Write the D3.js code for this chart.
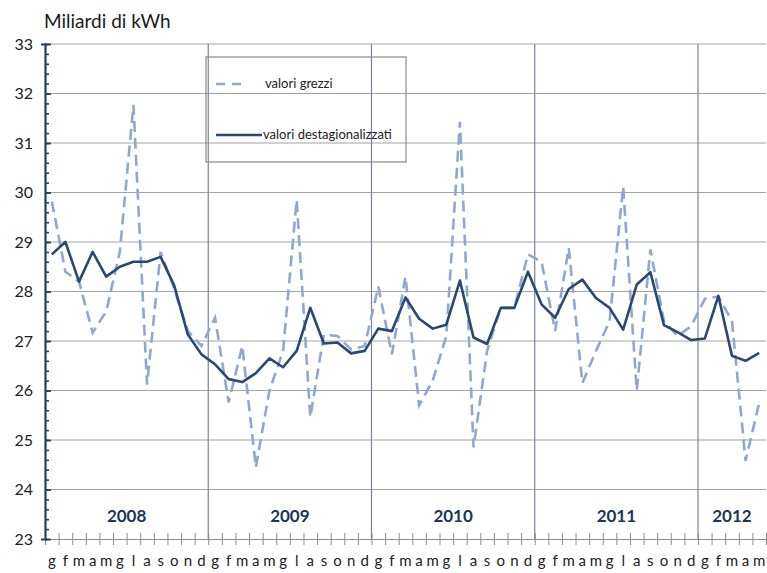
<!DOCTYPE html>
<html>
<head>
<meta charset="utf-8">
<script src="https://cdn.jsdelivr.net/npm/d3@7"></script>
<style>
  body { margin: 0; background: #fff; }
  svg { font-family: Lato, "Open Sans", sans-serif; }
</style>
</head>
<body>
<svg id="chart" width="767" height="573"></svg>
<script>
// data
var years = ['2008', '2009', '2010', '2011', '2012'];
var monthLetters = ['g', 'f', 'm', 'a', 'm', 'g', 'l', 'a', 's', 'o', 'n', 'd'];
var yTicks = [23, 24, 25, 26, 27, 28, 29, 30, 31, 32, 33];

var grezzi = [
  29.82, 28.4, 28.2, 27.17, 27.6, 28.8, 31.77, 26.12, 28.8, 28.05, 27.2, 26.9,
  27.47, 25.76, 26.9, 24.45, 26.0, 26.8, 29.85, 25.46, 27.13, 27.1, 26.83, 26.9,
  28.1, 26.73, 28.3, 25.7, 26.2, 27.1, 31.43, 24.85, 26.8, 27.67, 27.67, 28.75,
  28.6, 27.2, 28.88, 26.15, 26.8, 27.4, 30.12, 26.0, 28.85, 27.4, 27.1, 27.3,
  27.85, 27.9, 27.4, 24.58, 25.75
];
var destag = [
  28.75, 29.0, 28.2, 28.8, 28.3, 28.5, 28.6, 28.6, 28.7, 28.12, 27.13, 26.73,
  26.53, 26.23, 26.17, 26.35, 26.65, 26.47, 26.8, 27.67, 26.95, 26.97, 26.75, 26.8,
  27.25, 27.2, 27.88, 27.45, 27.25, 27.33, 28.22, 27.07, 26.94, 27.67, 27.67, 28.4,
  27.74, 27.47, 28.05, 28.24, 27.87, 27.67, 27.23, 28.14, 28.39, 27.32, 27.18, 27.02,
  27.05, 27.91, 26.7, 26.6, 26.76
];

// month labels, one per value
var months = grezzi.map(function(d, i) { return monthLetters[i % 12]; });

var plotLeft = 45, plotRight = 766, plotTop = 44, plotBottom = 539;
var svg = d3.select('#chart');

// scales
var x = d3.scaleBand().domain(d3.range(grezzi.length)).range([plotLeft, plotRight]);
var xb = d3.scaleLinear().domain([0, grezzi.length]).range([plotLeft, plotRight]);
var y = d3.scaleLinear().domain([23, 33]).range([plotBottom, plotTop]);
function cx(i) { return x(i) + x.bandwidth() / 2; }

// horizontal grid
svg.append('g')
  .selectAll('line')
  .data(yTicks.slice(1))
  .enter()
  .append('line')
    .attr('x1', plotLeft).attr('x2', plotRight)
    .attr('y1', function(d) { return y(d); })
    .attr('y2', function(d) { return y(d); })
    .style('stroke', '#a3a3a3')
    .style('stroke-width', 1.2);

// vertical year separators
svg.append('g')
  .selectAll('line')
  .data([12, 24, 36, 48])
  .enter()
  .append('line')
    .attr('x1', function(d) { return xb(d); })
    .attr('x2', function(d) { return xb(d); })
    .attr('y1', plotTop).attr('y2', plotBottom)
    .style('stroke', '#7683a0')
    .style('stroke-width', 1.2);

// x axis: ticks at month boundaries
var xAxis = svg.append('g')
  .attr('transform', 'translate(0,' + plotBottom + ')')
  .call(d3.axisBottom(xb).tickValues(d3.range(grezzi.length + 1)).tickSize(6).tickFormat(''));
xAxis.select('.domain').style('stroke', '#8c8c8c').style('stroke-width', 1.2);
xAxis.selectAll('.tick line').attr('y1', -6).style('stroke', '#8c8c8c');

// month letters
svg.append('g')
  .attr('transform', 'translate(0,' + plotBottom + ')')
  .call(d3.axisBottom(x).tickSize(0).tickFormat(function(i) { return months[i]; }))
  .call(function(g) {
    g.select('.domain').remove();
    g.selectAll('text')
      .attr('y', 16)
      .style('font-family', 'Lato, sans-serif')
      .style('font-size', '15px')
      .style('fill', '#222');
  });

// y axis with minor ticks
var minor = d3.range(23, 33.001, 0.2).map(function(d) { return +d.toFixed(1); });
var yMinor = svg.append('g')
  .attr('transform', 'translate(' + plotLeft + ',0)')
  .call(d3.axisLeft(y).tickValues(minor).tickSize(4).tickFormat(''));
yMinor.select('.domain').style('stroke', '#243f6b').style('stroke-width', 2.2);
yMinor.selectAll('.tick line').attr('x2', 4).style('stroke', '#243f6b').style('stroke-width', 1.6);

var yAxis = svg.append('g')
  .attr('transform', 'translate(' + plotLeft + ',0)')
  .call(d3.axisLeft(y).tickValues(yTicks).tickSize(6).tickFormat(d3.format('d')));
yAxis.select('.domain').remove();
yAxis.selectAll('.tick line').attr('x2', 6).style('stroke', '#243f6b').style('stroke-width', 1.8);
yAxis.selectAll('text')
  .attr('x', -12)
  .style('font-family', 'Lato, sans-serif')
  .style('font-size', '16px')
  .style('fill', '#222');

// year labels
svg.append('g')
  .selectAll('text')
  .data(years)
  .enter()
  .append('text')
    .attr('x', function(d, i) { return (xb(i * 12) + xb(Math.min((i + 1) * 12, grezzi.length))) / 2; })
    .attr('y', 522)
    .attr('text-anchor', 'middle')
    .style('font-size', '17px')
    .style('font-weight', 'bold')
    .style('fill', '#1d3558')
    .text(function(d) { return d; });

// lines
var line = function(vals) {
  return d3.line()
    .x(function(d, i) { return cx(i); })
    .y(function(d) { return y(d); })(vals);
};

svg.append('path')
  .attr('d', line(grezzi))
  .style('fill', 'none')
  .style('stroke', '#8ea8d0')
  .style('stroke-width', 2.6)
  .style('stroke-dasharray', '11,6');

svg.append('path')
  .attr('d', line(destag))
  .style('fill', 'none')
  .style('stroke', '#2a4872')
  .style('stroke-width', 2.6)
  .style('stroke-linejoin', 'round');

// legend
var legend = svg.append('g');
legend.append('rect')
  .attr('x', 206).attr('y', 57)
  .attr('width', 200).attr('height', 105)
  .style('fill', 'none')
  .style('stroke', '#8a8a8a')
  .style('stroke-width', 1.2);
legend.append('line')
  .attr('x1', 216).attr('x2', 248).attr('y1', 84).attr('y2', 84)
  .style('stroke', '#8ea8d0').style('stroke-width', 2.6).style('stroke-dasharray', '9,7');
legend.append('text')
  .attr('x', 265).attr('y', 88)
  .style('font-size', '13px').style('fill', '#222')
  .text('valori grezzi');
legend.append('line')
  .attr('x1', 216).attr('x2', 262).attr('y1', 135).attr('y2', 135)
  .style('stroke', '#2a4872').style('stroke-width', 2.6);
legend.append('text')
  .attr('x', 263).attr('y', 139)
  .style('font-size', '13px').style('fill', '#222')
  .text('valori destagionalizzati');

// title
svg.append('text')
  .attr('x', 44).attr('y', 28)
  .style('font-size', '19px')
  .style('fill', '#1a1a1a')
  .text('Miliardi di kWh');
</script>
</body>
</html>
